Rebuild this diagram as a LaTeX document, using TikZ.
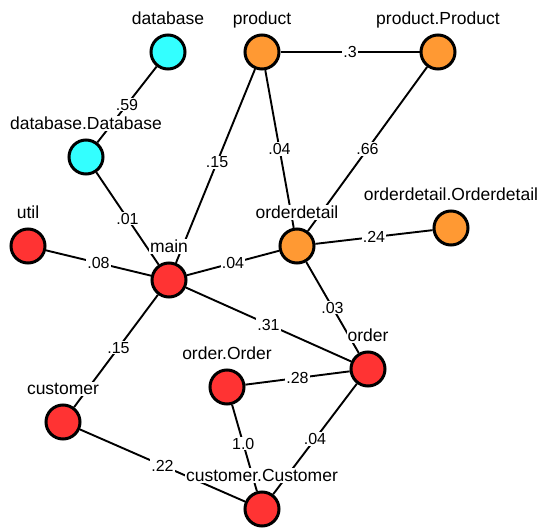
\documentclass[tikz,border=0pt]{standalone}
\usepackage{fontspec}
\setmainfont{Liberation Sans}
\usetikzlibrary{backgrounds}
\definecolor{modcyan}{RGB}{51,255,255}
\definecolor{modorange}{RGB}{255,153,51}
\definecolor{modred}{RGB}{255,51,51}
\begin{document}
\begin{tikzpicture}[x=1pt,y=-1pt,
  mod/.style={circle, draw=black, line width=3pt, minimum size=34pt, inner sep=0pt},
  link/.style={line width=1.9pt},
  wt/.style={fill=white, inner sep=1pt, font=\fontsize{16}{17}\selectfont},
  lab/.style={fill=white, inner sep=1pt, anchor=base, font=\fontsize{17.5}{18}\selectfont}]
\useasboundingbox (0,0) rectangle (539,530);

% modules
\node[mod, fill=modcyan]   (database)   at (168,52)  {};
\node[mod, fill=modorange] (product)    at (262,52)  {};
\node[mod, fill=modorange] (productP)   at (438,52)  {};
\node[mod, fill=modcyan]   (databaseD)  at (86,157)  {};
\node[mod, fill=modred]    (util)       at (28,246)  {};
\node[mod, fill=modred]    (main)       at (169,280) {};
\node[mod, fill=modorange] (orderdetail) at (297,246) {};
\node[mod, fill=modorange] (orderdetailO) at (451,228) {};
\node[mod, fill=modred]    (order)      at (368,369) {};
\node[mod, fill=modred]    (orderO)     at (227,387) {};
\node[mod, fill=modred]    (customer)   at (63,422)  {};
\node[mod, fill=modred]    (customerC)  at (262,509) {};

% dependencies with weights
\begin{scope}[on background layer]
\draw[link] (database) -- node[wt]{.59} (databaseD);
\draw[link] (product) -- node[wt]{.3} (productP);
\draw[link] (product) -- node[wt, pos=0.48]{.15} (main);
\draw[link] (product) -- node[wt]{.04} (orderdetail);
\draw[link] (productP) -- node[wt]{.66} (orderdetail);
\draw[link] (databaseD) -- node[wt]{.01} (main);
\draw[link] (util) -- node[wt]{.08} (main);
\draw[link] (main) -- node[wt]{.04} (orderdetail);
\draw[link] (orderdetail) -- node[wt]{.24} (orderdetailO);
\draw[link] (orderdetail) -- node[wt]{.03} (order);
\draw[link] (main) -- node[wt]{.31} (order);
\draw[link] (main) -- node[wt, pos=0.47]{.15} (customer);
\draw[link] (orderO) -- node[wt]{.28} (order);
\draw[link] (orderO) -- node[wt, pos=0.45]{1.0} (customerC);
\draw[link] (order) -- node[wt]{.04} (customerC);
\draw[link] (customer) -- node[wt]{.22} (customerC);
\end{scope}

% module names
\node[lab] (l-database)     at ([yshift=27.5pt]database.center)     {database};
\node[lab] (l-product)      at ([yshift=27.5pt]product.center)      {product};
\node[lab] (l-productP)     at ([yshift=27.5pt]productP.center)     {product.Product};
\node[lab] (l-databaseD)    at ([yshift=27.5pt]databaseD.center)    {database.Database};
\node[lab] (l-util)         at ([yshift=27.5pt]util.center)         {util};
\node[lab] (l-main)         at ([yshift=27.5pt]main.center)         {main};
\node[lab] (l-orderdetail)  at ([yshift=27.5pt]orderdetail.center)  {orderdetail};
\node[lab] (l-orderdetailO) at ([yshift=27.5pt]orderdetailO.center) {orderdetail.Orderdetail};
\node[lab] (l-order)        at ([yshift=27.5pt]order.center)        {order};
\node[lab] (l-orderO)       at ([yshift=27.5pt]orderO.center)       {order.Order};
\node[lab] (l-customer)     at ([yshift=27.5pt]customer.center)     {customer};
\node[lab] (l-customerC)    at ([yshift=27.5pt]customerC.center)    {customer.Customer};
\end{tikzpicture}
\end{document}
